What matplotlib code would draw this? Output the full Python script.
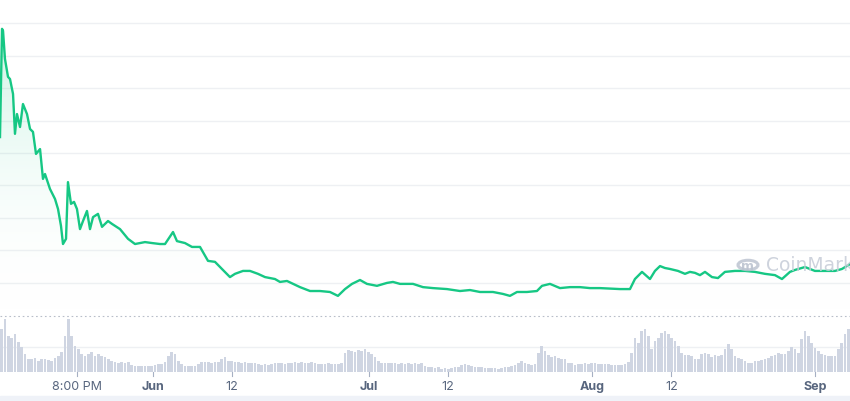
import numpy as np
import matplotlib
matplotlib.use("Agg")
import matplotlib.pyplot as plt
from matplotlib.patches import Rectangle, Circle

# ---------------- data (x = days relative to 1 Jun) ----------------
price_days = [-21.25, -20.97, -20.83, -20.56, -20.14, -19.86, -19.44, -19.17, -18.89, -18.47,
              -18.06, -17.5, -17.08, -16.67, -16.25, -15.69, -15.28, -15.0, -14.31, -13.61,
              -13.19, -12.78, -12.5, -12.08, -11.81, -11.39, -10.97, -10.56, -10.14, -9.72,
              -9.17, -8.75, -8.33, -7.64, -7.08, -6.25, -5.69, -4.58, -3.47, -2.5,
              -1.11, -0.14, 0.97, 1.67, 2.78, 3.33, 4.44, 5.42, 6.53, 7.64,
              8.61, 9.58, 10.69, 11.39, 12.5, 13.47, 14.58, 15.56, 16.94, 17.64,
              18.61, 20.42, 21.81, 23.19, 24.58, 25.69, 26.67, 27.64, 28.75, 29.72,
              31.11, 32.5, 33.33, 34.31, 36.11, 37.5, 38.89, 40.83, 42.64, 44.03,
              45.42, 47.22, 48.61, 49.58, 50.56, 51.94, 53.33, 54.03, 55.14, 56.53,
              57.92, 59.31, 60.69, 62.08, 64.86, 66.25, 66.94, 67.92, 69.03, 69.72,
              70.42, 71.11, 71.81, 72.92, 73.89, 74.58, 75.28, 75.97, 76.67, 77.64,
              78.47, 79.44, 80.83, 82.22, 83.61, 85.0, 86.39, 87.36, 88.47, 89.17,
              90.56, 91.94, 93.33, 94.72, 95.69, 96.81]
price_vals = [5.49, 8.83, 8.77, 7.90, 7.35, 7.28, 6.82, 5.59, 6.20, 5.80,
              6.51, 6.20, 5.74, 5.65, 4.97, 5.12, 4.20, 4.35, 3.89, 3.58,
              3.27, 2.75, 2.19, 2.35, 4.10, 3.43, 3.49, 3.27, 2.65, 2.90,
              3.21, 2.65, 3.02, 3.12, 2.72, 2.90, 2.81, 2.65, 2.35, 2.19,
              2.25, 2.22, 2.19, 2.19, 2.56, 2.28, 2.22, 2.10, 2.10, 1.67,
              1.64, 1.42, 1.17, 1.27, 1.36, 1.36, 1.27, 1.17, 1.11, 1.02,
              1.05, 0.86, 0.74, 0.74, 0.71, 0.59, 0.80, 0.96, 1.08, 0.96,
              0.90, 0.99, 1.02, 0.96, 0.96, 0.86, 0.83, 0.80, 0.74, 0.77,
              0.71, 0.71, 0.65, 0.59, 0.71, 0.71, 0.74, 0.90, 0.96, 0.83,
              0.86, 0.86, 0.83, 0.83, 0.80, 0.80, 1.11, 1.33, 1.11, 1.36,
              1.51, 1.45, 1.42, 1.36, 1.27, 1.33, 1.30, 1.23, 1.33, 1.17,
              1.14, 1.33, 1.36, 1.36, 1.33, 1.27, 1.23, 1.11, 1.33, 1.39,
              1.48, 1.36, 1.36, 1.36, 1.42, 1.57]

volume = [43, 53, 36, 34, 38, 30, 25, 18, 13, 13, 14, 11, 13, 13, 12, 11, 14, 16, 20, 36,
          53, 36, 26, 23, 18, 16, 18, 20, 16, 18, 16, 15, 13, 11, 10, 9, 10, 9, 10, 7,
          6, 6, 6, 6, 6, 6, 7, 8, 8, 10, 16, 20, 18, 11, 8, 6, 6, 6, 6, 8,
          10, 10, 10,
          9, 10, 10, 13, 15, 11, 11, 10, 10, 9, 10, 9, 9, 9, 8, 7, 8, 7, 8, 9,
          9, 9, 8, 9, 9, 10, 9, 10, 9, 9, 10, 9, 8, 8, 8, 9, 8, 8, 8, 9,
          19, 22, 21, 20, 22, 21, 23, 20, 18, 15, 11, 9, 9, 9, 9, 9, 8, 9, 8, 9,
          8, 9, 8, 9,
          6, 5, 5, 4, 5, 3, 4, 3, 4, 5, 5, 7, 8, 7, 6, 5, 5, 5, 4, 4,
          4, 4, 3, 4, 5, 5, 6, 7, 9, 11, 9, 8, 7, 8, 19, 26, 21, 17, 15, 16,
          14, 13, 13, 9, 9, 7, 8, 8, 9, 8, 9, 9, 8, 8, 8, 8, 7, 7, 7, 7,
          8, 10, 19, 34,
          29, 41, 43, 36, 23, 31, 34, 39, 41, 38, 34, 31, 26, 19, 17, 17, 16, 13, 13, 18,
          19, 18, 15, 17, 16, 17, 23, 28, 23, 16, 14, 13, 11, 9, 9, 11, 11, 12, 13, 14,
          16, 17, 19, 18, 18, 21, 25, 23, 19, 33, 41, 36, 29, 24, 21, 18, 17, 16, 16, 16,
          23, 29, 38, 43]

tick_days = [-10.56, 0, 11, 30, 41, 61, 72, 92]
tick_labels = ["8:00 PM", "Jun", "12", "Jul", "12", "Aug", "12", "Sep"]
tick_bold = [False, True, False, True, False, True, False, True]
watermark = "CoinMarketCap"

x_start, x_end = -21.25, 96.81

# ---------------- figure ----------------
W, H = 850, 402
fig = plt.figure(figsize=(W / 100, H / 100), dpi=100)
fig.patch.set_facecolor("white")

green = "#16c784"

# price axes: from top to y=316 px
ax = fig.add_axes([0, 1 - 316 / H, 1, 316 / H])
ax.set_xlim(x_start, x_end)
ax.set_ylim(0, 9.75)
for g in range(1, 10):
    ax.axhline(g, color="#eef0f3", lw=1, zorder=0)

px = np.array(price_days)
py = np.array(price_vals)

# gradient fill under line
grad = np.linspace(0, 1, 256).reshape(-1, 1)
cmap = matplotlib.colors.LinearSegmentedColormap.from_list(
    "g", [(1, 1, 1, 0), (0.086, 0.78, 0.52, 0.22)])
im = ax.imshow(grad, extent=[x_start, x_end, 0, 9.0], origin="lower",
               aspect="auto", cmap=cmap, zorder=1)
clip = matplotlib.path.Path(np.vstack([np.column_stack([px, py]),
                                       [[px[-1], 0], [px[0], 0]]]))
im.set_clip_path(clip, transform=ax.transData)
ax.plot(px, py, color=green, lw=1.7, zorder=3, solid_joinstyle="round")
ax.axis("off")

# watermark (logo + name, cut at the right edge as in the reference)
circ = Circle((748 / W, 1 - 266 / H), 10 / W, transform=fig.transFigure,
              fill=False, ec="#bcc3d0", lw=2.2, alpha=0.85, zorder=5)
fig.add_artist(circ)
fig.text(748 / W, 1 - 267 / H, "m", fontsize=9, color="#bcc3d0", ha="center",
         va="center", fontweight="bold", alpha=0.9)
fig.text(766 / W, 1 - 266 / H, watermark, fontsize=13.5, color="#c6ccd7",
         ha="left", va="center", alpha=0.85)

# volume axes
vax = fig.add_axes([0, 1 - 373 / H, 1, 57 / H])
vax.set_xlim(x_start, x_end)
vax.set_ylim(0, 57)
n = len(volume)
step = (x_end - x_start) / n
vx = x_start + (np.arange(n) + 0.5) * step
vax.bar(vx, volume, width=step * 0.72, color="#cfd5e2", zorder=2)
vax.axhline(25, color="#eef0f3", lw=1, zorder=0)
vax.axhline(56.5, color="#b8bec9", lw=0.8, ls=(0, (1.5, 2.5)), zorder=3)
vax.axis("off")

# tick marks and labels
for d, lab, b in zip(tick_days, tick_labels, tick_bold):
    xf = (d - x_start) / (x_end - x_start)
    fig.add_artist(plt.Line2D([xf, xf], [1 - 373 / H, 1 - 377 / H],
                              transform=fig.transFigure, color="#a6b0c3", lw=0.8))
    fig.text(xf, 1 - 387 / H, lab, ha="center", va="center", fontsize=9,
             color="#58667e", fontweight="bold" if b else "normal",
             family="Inter")

# bottom strip
fig.add_artist(Rectangle((0, 0), 1, 5 / H, transform=fig.transFigure,
                         color="#eff2f8", zorder=0))

fig.savefig("out.png", dpi=100)
